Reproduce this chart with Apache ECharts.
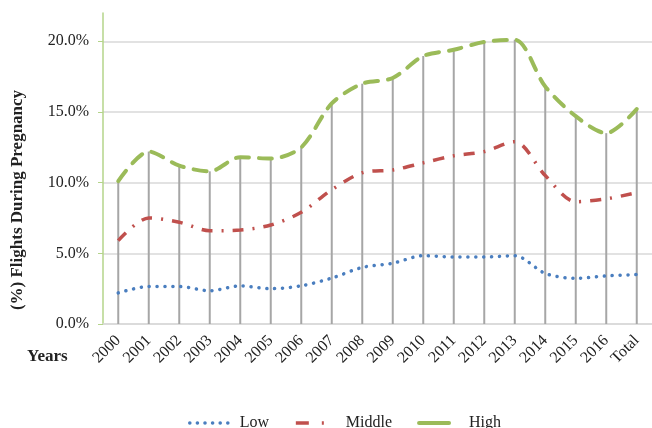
<!DOCTYPE html>
<html lang="en">
<head>
    <meta charset="UTF-8">
    <title>Flights During Pregnancy</title>
    <script src="https://cdn.jsdelivr.net/npm/echarts@6/dist/echarts.min.js"></script>
    <style>
        html, body { margin: 0; padding: 0; background: #fff; }
        #chart { width: 652px; height: 428px; }
    </style>
</head>
<body>
    <div id="chart"></div>
    <script>
        // data (%)
        const years = ['2000','2001','2002','2003','2004','2005','2006','2007','2008',
                       '2009','2010','2011','2012','2013','2014','2015','2016','Total'];
        const low    = [2.2, 2.65, 2.65, 2.35, 2.7, 2.5, 2.7, 3.25, 4.0, 4.3, 4.83, 4.74, 4.74, 4.83, 3.58, 3.23, 3.4, 3.5];
        const middle = [5.9, 7.5, 7.2, 6.6, 6.65, 7.0, 7.9, 9.5, 10.7, 10.9, 11.4, 11.9, 12.2, 12.9, 10.5, 8.65, 8.85, 9.3];
        const high   = [10.1, 12.2, 11.2, 10.8, 11.8, 11.7, 12.5, 15.6, 17.0, 17.4, 18.95, 19.4, 19.95, 20.1, 16.8, 14.7, 13.5, 15.2];
        const yTicks = [0, 5, 10, 15, 20];

        const serif = 'Liberation Serif';
        const noSymbol = { color: 'transparent', borderWidth: 0 };
        const chart = echarts.init(document.getElementById('chart'));
        chart.setOption({
            animation: false,
            grid: { left: 103, right: -3, top: 13, bottom: 104 },
            legend: {
                data: [
                    { name: 'Low', itemStyle: noSymbol,
                      lineStyle: { width: 3.5, type: [0.1, 7.5], cap: 'round' } },
                    { name: 'Middle', itemStyle: noSymbol,
                      lineStyle: { width: 3.5, type: [13, 13, 2, 40], cap: 'butt' } },
                    { name: 'High', itemStyle: noSymbol,
                      lineStyle: { width: 4, type: [30, 30], cap: 'round' } }
                ],
                left: 183, top: 410,
                itemWidth: 45, itemHeight: 14, itemGap: 25,
                textStyle: { fontFamily: serif, fontSize: 16, color: '#222' }
            },
            graphic: [
                {   // y axis title
                    type: 'text', x: 18, y: 200, rotation: Math.PI / 2,
                    style: { text: '(%) Flights During Pregnancy', font: 'bold 17px "Liberation Serif"',
                             fill: '#222', align: 'center', verticalAlign: 'middle' }
                },
                {
                    type: 'text', left: 27, top: 348,
                    style: { text: 'Years', font: 'bold 17px "Liberation Serif"', fill: '#222' }
                }
            ],
            xAxis: {
                type: 'category',
                data: years,
                axisLine: { lineStyle: { color: '#d9d9d9', width: 1.5 } },
                axisTick: { show: false },
                axisLabel: { rotate: 45, margin: 14, fontFamily: serif, fontSize: 16, color: '#222', interval: 0 }
            },
            yAxis: {
                type: 'value',
                min: yTicks[0], max: 22, interval: 5,
                axisLine: { show: true, lineStyle: { color: '#b4d48a', width: 1.5 } },
                axisTick: { show: true, length: 5, lineStyle: { color: '#b4d48a' } },
                axisLabel: {
                    margin: 14, fontFamily: serif, fontSize: 16, color: '#222', showMaxLabel: false,
                    formatter: v => (yTicks.includes(v) ? v.toFixed(1) + '%' : '')
                },
                splitLine: { show: true, showMaxLine: false, lineStyle: { color: '#d9d9d9', width: 1.5 } }
            },
            series: [
                {   // drop lines under the High series
                    name: 'drop', type: 'bar', data: high, barWidth: 2, z: 1,
                    itemStyle: { color: '#a6a6a6' }, silent: true
                },
                {
                    name: 'Low', type: 'line', data: low, smooth: 0.3, showSymbol: false, symbol: 'none', z: 3,
                    itemStyle: { color: '#4a7ebf' },
                    lineStyle: { color: '#4a7ebf', width: 3.5, type: [0.1, 7.8], cap: 'round' }
                },
                {
                    name: 'Middle', type: 'line', data: middle, smooth: 0.3, showSymbol: false, symbol: 'none', z: 3,
                    itemStyle: { color: '#c0504d' },
                    lineStyle: { color: '#c0504d', width: 3.5, type: [11, 9, 2, 9] }
                },
                {
                    name: 'High', type: 'line', data: high, smooth: 0.3, showSymbol: false, symbol: 'none', z: 3,
                    itemStyle: { color: '#9bbb59' },
                    lineStyle: { color: '#9bbb59', width: 4, type: [13, 10], cap: 'round' }
                }
            ]
        });
    </script>
</body>
</html>
